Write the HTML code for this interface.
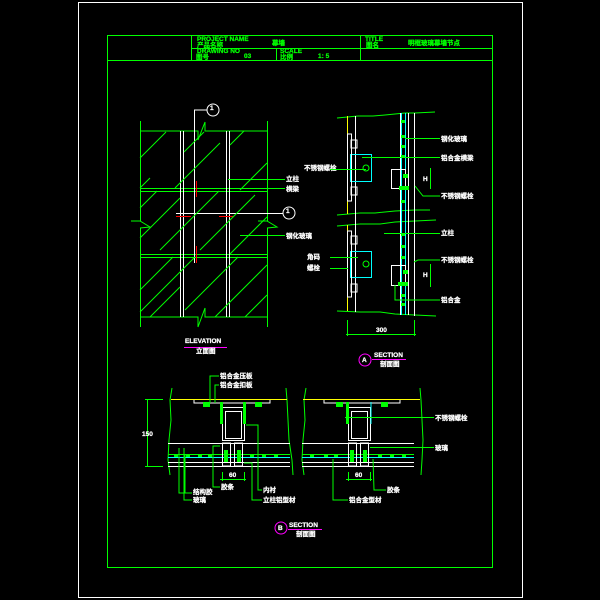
<!DOCTYPE html>
<html><head><meta charset="utf-8"><style>
html,body{margin:0;padding:0;background:#000;width:600px;height:600px;overflow:hidden}
svg{display:block}
text{font-family:"Liberation Sans","Noto Sans CJK SC",sans-serif;font-weight:bold;fill:#fff;font-size:6.5px;stroke:currentColor;stroke-width:0.25}
.g{stroke:#0f0;fill:none;stroke-width:1}
.w{stroke:#fff;fill:none;stroke-width:1}
.c{stroke:#0ff;fill:none;stroke-width:1}
.y{stroke:#ff0;fill:none;stroke-width:1}
.r{stroke:#f00;fill:none;stroke-width:1}
.m{stroke:#f0f;fill:none;stroke-width:1}
</style></head><body>
<svg width="600" height="600" viewBox="0 0 600 600" xmlns="http://www.w3.org/2000/svg" color="#fff">
<rect x="78.5" y="2.5" width="444" height="595" class="w"/>
<rect x="107.5" y="35.5" width="385" height="532" class="g"/>
<!-- title block -->
<line x1="107" y1="60.5" x2="492" y2="60.5" class="g"/>
<line x1="191.5" y1="35" x2="191.5" y2="60" class="g"/>
<line x1="360.5" y1="35" x2="360.5" y2="60" class="g"/>
<line x1="276.5" y1="48" x2="276.5" y2="60" class="g"/>
<line x1="191" y1="48.5" x2="492" y2="48.5" class="g"/>
<g color="#0f0">
<text x="197" y="41" style="fill:#0f0">PROJECT NAME</text>
<text x="197" y="47" style="fill:#0f0">产品名称</text>
<text x="272" y="45" style="fill:#0f0">幕墙</text>
<text x="197" y="53" style="fill:#0f0">DRAWING NO</text>
<text x="196" y="59" style="fill:#0f0">图号</text>
<text x="244" y="58" style="fill:#0f0">03</text>
<text x="280" y="53" style="fill:#0f0">SCALE</text>
<text x="280" y="59" style="fill:#0f0">比例</text>
<text x="318" y="58" style="fill:#0f0">1: 5</text>
<text x="365" y="41" style="fill:#0f0">TITLE</text>
<text x="366" y="47" style="fill:#0f0">图名</text>
<text x="408" y="45" style="fill:#0f0">明框玻璃幕墙节点</text>
</g>

<!-- elevation -->
<g>
<line x1="140.5" y1="121" x2="140.5" y2="221" class="g"/>
<line x1="140.5" y1="228" x2="140.5" y2="327" class="g"/>
<line x1="267.5" y1="121" x2="267.5" y2="221" class="g"/>
<line x1="267.5" y1="228" x2="267.5" y2="327" class="g"/>
<polyline points="131,221 140,221 150,227 140,228" class="g"/>
<polyline points="258,221 267,221 277,227 267,228" class="g"/>
<polyline points="140,131 198,131 198,140 205,122 205,131 267,131" class="g"/>
<polyline points="140,317 198,317 198,327 205,308 205,317 267,317" class="g"/>
<line x1="140" y1="188.5" x2="267" y2="188.5" class="g"/>
<line x1="140" y1="191.5" x2="267" y2="191.5" class="g"/>
<line x1="140" y1="254.5" x2="267" y2="254.5" class="g"/>
<line x1="140" y1="257.5" x2="267" y2="257.5" class="g"/>
<line x1="180.5" y1="131" x2="180.5" y2="317" class="w"/>
<line x1="183.5" y1="131" x2="183.5" y2="317" class="w"/>
<line x1="226.5" y1="131" x2="226.5" y2="317" class="w"/>
<line x1="229.5" y1="131" x2="229.5" y2="317" class="w"/>
<polyline points="194.5,263 194.5,110 207,110" class="w"/>
<circle cx="213" cy="110" r="6" class="w"/><text x="210" y="110">1</text>
<line x1="176" y1="213.5" x2="283" y2="213.5" class="w"/>
<circle cx="289" cy="213" r="6" class="w"/><text x="286" y="213">1</text>
<line x1="196.5" y1="181" x2="196.5" y2="197" class="r"/>
<line x1="196.5" y1="246" x2="196.5" y2="263" class="r"/>
<line x1="176" y1="216.5" x2="191" y2="216.5" class="r"/>
<line x1="219" y1="216.5" x2="234" y2="216.5" class="r"/>
<g class="g" stroke-width="0.8">
<line x1="140" y1="158" x2="166" y2="132"/><line x1="184" y1="152" x2="204" y2="132"/><line x1="230" y1="145" x2="244" y2="131"/>
<line x1="140" y1="188" x2="150" y2="178"/><line x1="175" y1="188" x2="220" y2="143"/><line x1="240" y1="190" x2="267" y2="163"/>
<line x1="140" y1="208" x2="157" y2="191"/><line x1="160" y1="250" x2="219" y2="191"/><line x1="200" y1="250" x2="255" y2="195"/>
<line x1="140" y1="238" x2="180" y2="198"/><line x1="230" y1="254" x2="267" y2="217"/>
<line x1="140" y1="290" x2="173" y2="257"/><line x1="140" y1="312" x2="195" y2="257"/><line x1="185" y1="310" x2="238" y2="257"/>
<line x1="215" y1="317" x2="267" y2="265"/><line x1="245" y1="317" x2="267" y2="295"/><line x1="150" y1="317" x2="180" y2="287"/>
</g>
<line x1="228" y1="179.5" x2="285" y2="179.5" class="g"/>
<line x1="240" y1="188.5" x2="285" y2="188.5" class="g"/>
<line x1="240" y1="235.5" x2="285" y2="235.5" class="g"/>
<text x="286" y="181">立柱</text><text x="286" y="191">横梁</text><text x="286" y="238">钢化玻璃</text>
<text x="304" y="170">不锈钢螺栓</text>
<text x="185" y="343">ELEVATION</text>
<line x1="184" y1="347.5" x2="227" y2="347.5" class="m"/>
<text x="196" y="353">立面图</text>
</g>

<!-- section A -->
<g>
<polyline points="337,118 358,116 373,116 385,115 405,113 415,113 435,112" class="g"/>
<polyline points="337,215 360,213 375,213 395,211 415,210 430,210" class="g"/>
<polyline points="337,226 360,224 380,224 395,222 415,221 436,220" class="g"/>
<polyline points="337,311 360,312 380,312 395,314 415,315 436,316" class="g"/>
<line x1="347.5" y1="116" x2="347.5" y2="214" class="y"/>
<line x1="347.5" y1="225" x2="347.5" y2="311" class="y"/>
<line x1="355.5" y1="116" x2="355.5" y2="312" class="w"/>
<line x1="401.5" y1="113" x2="401.5" y2="315" class="c"/>
<line x1="405.5" y1="113" x2="405.5" y2="315" class="c"/>
<line x1="400.5" y1="113" x2="400.5" y2="315" class="w"/>
<line x1="408.5" y1="113" x2="408.5" y2="315" class="w"/>
<line x1="414.5" y1="113" x2="414.5" y2="316" class="w"/>
<rect x="350.5" y="154.5" width="21" height="27" class="c"/>
<rect x="350.5" y="251.5" width="21" height="26" class="c"/>
<rect x="347.5" y="134" width="4" height="67" class="w"/>
<rect x="347.5" y="231" width="4" height="66" class="w"/>
<rect x="351" y="140" width="6" height="8" class="w"/><rect x="351" y="187" width="6" height="8" class="w"/>
<rect x="351" y="236" width="6" height="8" class="w"/><rect x="351" y="284" width="6" height="8" class="w"/>
<circle cx="366" cy="168" r="3" class="g"/><circle cx="366" cy="264" r="3" class="g"/>
<rect x="391.5" y="169.5" width="14" height="19" class="w"/>
<rect x="391.5" y="265.5" width="14" height="20" class="w"/>
<rect x="399" y="186" width="10" height="4" style="fill:#0f0"/>
<rect x="398" y="282" width="10" height="4" style="fill:#0f0"/>
<g fill="#0f0">
<rect x="401" y="120" width="4" height="3"/><rect x="401" y="135" width="4" height="3"/><rect x="401" y="145" width="4" height="3"/><rect x="401" y="155" width="4" height="3"/><rect x="401" y="200" width="4" height="3"/>
<rect x="401" y="233" width="4" height="3"/><rect x="401" y="245" width="4" height="3"/><rect x="401" y="256" width="4" height="3"/><rect x="401" y="294" width="4" height="3"/><rect x="401" y="303" width="4" height="3"/>
<rect x="403" y="174" width="5" height="4"/><rect x="403" y="270" width="5" height="4"/>
</g>
<line x1="405" y1="138.5" x2="440" y2="138.5" class="g"/>
<line x1="362" y1="157.5" x2="440" y2="157.5" class="g"/>
<line x1="330" y1="169.5" x2="366" y2="169.5" class="g"/>
<line x1="384" y1="233.5" x2="440" y2="233.5" class="g"/>
<line x1="330" y1="257.5" x2="358" y2="257.5" class="g"/>
<line x1="330" y1="268.5" x2="348" y2="268.5" class="g"/>
<polyline points="415,186 423,196 440,196" class="g"/>
<polyline points="414,262 418,260 440,260" class="g"/>
<polyline points="395,285 395,300 440,300" class="g"/>
<line x1="430.5" y1="168" x2="430.5" y2="189" class="g"/>
<line x1="430.5" y1="264" x2="430.5" y2="287" class="g"/>
<text x="441" y="141">钢化玻璃</text><text x="441" y="160">铝合金横梁</text>
<text x="441" y="198">不锈钢螺栓</text><text x="441" y="235">立柱</text>
<text x="441" y="262">不锈钢螺栓</text><text x="441" y="302">铝合金</text>
<text x="307" y="259">角码</text><text x="307" y="270">螺栓</text>
<text x="423" y="181">H</text><text x="423" y="277">H</text>
<line x1="347.5" y1="320" x2="347.5" y2="336" class="g"/>
<line x1="414.5" y1="320" x2="414.5" y2="336" class="g"/>
<line x1="346" y1="334.5" x2="416" y2="334.5" class="g"/>
<text x="376" y="332">300</text>
<circle cx="365" cy="360" r="6" class="m"/><text x="362" y="362">A</text>
<line x1="372" y1="359.5" x2="406" y2="359.5" class="m"/>
<text x="374" y="357">SECTION</text><text x="380" y="366">剖面图</text>
</g>

<!-- section B -->
<g>
<polyline points="172,388 170,400 171,420 169,440 168,460 170,475" class="g"/>
<polyline points="286,388 287,400 288,420 289,440 292,460 293,475" class="g"/>
<line x1="171" y1="399.5" x2="287" y2="399.5" class="y"/>
<polyline points="194,400 194,403 270,403 270,400" class="w"/>
<rect x="222.5" y="407.5" width="22" height="33" class="w"/>
<rect x="225.5" y="411.5" width="16" height="27" class="w"/>
<rect x="220" y="402" width="3" height="22" fill="#0f0"/>
<rect x="243" y="402" width="3" height="22" fill="#0f0"/>
<line x1="168" y1="443.5" x2="290" y2="443.5" class="w"/>
<line x1="168" y1="454.5" x2="290" y2="454.5" class="g"/>
<line x1="168" y1="457.5" x2="290" y2="457.5" class="c"/>
<line x1="168" y1="462.5" x2="290" y2="462.5" class="w"/>
<line x1="168" y1="466.5" x2="290" y2="466.5" class="w"/>
<rect x="222.5" y="443" width="8" height="23" class="w"/><rect x="234.5" y="443" width="8" height="23" class="w"/>
<rect x="224" y="450" width="4" height="12" fill="#0f0"/><rect x="237" y="450" width="4" height="12" fill="#0f0"/>
<g fill="#0f0"><rect x="174" y="455" width="4" height="2"/><rect x="186" y="455" width="4" height="2"/><rect x="198" y="455" width="4" height="2"/><rect x="208" y="455" width="4" height="2"/><rect x="250" y="455" width="4" height="2"/><rect x="262" y="455" width="4" height="2"/><rect x="274" y="455" width="4" height="2"/></g>
<g fill="#0f0"><rect x="203" y="402" width="7" height="5"/><rect x="255" y="402" width="7" height="5"/></g>
</g>
<g transform="translate(134,0)">
<polyline points="172,388 170,400 171,420 169,440 168,460 170,475" class="g"/>
<polyline points="286,388 287,400 288,420 289,440 288,460 287,475" class="g"/>
<line x1="169" y1="399.5" x2="286" y2="399.5" class="y"/>
<polyline points="190,400 190,403 266,403 266,400" class="w"/>
<rect x="214.5" y="407.5" width="22" height="33" class="w"/>
<rect x="217.5" y="411.5" width="16" height="27" class="w"/>
<rect x="212" y="402" width="3" height="22" fill="#0f0"/>
<line x1="237" y1="402" x2="237" y2="424" class="c"/>
<line x1="168" y1="443.5" x2="280" y2="443.5" class="w"/>
<line x1="168" y1="454.5" x2="280" y2="454.5" class="g"/>
<line x1="168" y1="457.5" x2="280" y2="457.5" class="c"/>
<line x1="168" y1="462.5" x2="280" y2="462.5" class="w"/>
<line x1="168" y1="466.5" x2="280" y2="466.5" class="w"/>
<rect x="214.5" y="443" width="8" height="23" class="w"/><rect x="226.5" y="443" width="8" height="23" class="w"/>
<rect x="216" y="450" width="4" height="12" fill="#0f0"/><rect x="229" y="450" width="4" height="12" fill="#0f0"/>
<g fill="#0f0"><rect x="176" y="455" width="4" height="2"/><rect x="190" y="455" width="4" height="2"/><rect x="200" y="455" width="4" height="2"/><rect x="244" y="455" width="4" height="2"/><rect x="256" y="455" width="4" height="2"/><rect x="268" y="455" width="4" height="2"/></g>
<g fill="#0f0"><rect x="202" y="402" width="7" height="5"/><rect x="247" y="402" width="7" height="5"/></g>
</g>
<!-- B leaders -->
<line x1="147.5" y1="399" x2="147.5" y2="467" class="g"/>
<line x1="145" y1="399.5" x2="163" y2="399.5" class="g"/>
<line x1="145" y1="466.5" x2="163" y2="466.5" class="g"/>
<text x="142" y="436">150</text>
<polyline points="210,403 210,376 219,376" class="g"/>
<polyline points="215,403 215,385 219,385" class="g"/>
<text x="220" y="378">铝合金压板</text><text x="220" y="387">铝合金扣板</text>
<polyline points="179,448 179,493 192,493" class="g"/>
<polyline points="185,455 185,493" class="g"/>
<polyline points="184,448 184,500 192,500" class="g"/>
<text x="193" y="494">结构胶</text><text x="193" y="502">玻璃</text>
<polyline points="246,425 258,425 258,490 262,490" class="g"/>
<polyline points="244,463 252,463 252,500 262,500" class="g"/>
<text x="263" y="492">内衬</text><text x="263" y="502">立柱铝型材</text>
<polyline points="220,446 213,446 213,487 220,487" class="g"/>
<text x="221" y="489">胶条</text>
<line x1="222.5" y1="472" x2="222.5" y2="481" class="g"/><line x1="244.5" y1="472" x2="244.5" y2="481" class="g"/>
<line x1="220" y1="479.5" x2="246" y2="479.5" class="g"/><text x="229" y="477">60</text>
<line x1="348.5" y1="472" x2="348.5" y2="481" class="g"/><line x1="370.5" y1="472" x2="370.5" y2="481" class="g"/>
<line x1="346" y1="479.5" x2="372" y2="479.5" class="g"/><text x="355" y="477">60</text>
<line x1="345" y1="417.5" x2="434" y2="417.5" class="g"/>
<text x="435" y="420">不锈钢螺栓</text>
<line x1="370" y1="447.5" x2="434" y2="447.5" class="g"/>
<text x="435" y="450">玻璃</text>
<polyline points="373,459 374,490 386,490" class="g"/><text x="387" y="492">胶条</text>
<polyline points="333,459 333,500 348,500" class="g"/><text x="349" y="502">铝合金型材</text>
<circle cx="281" cy="528" r="6" class="m"/><text x="278" y="530">B</text>
<line x1="288" y1="529.5" x2="322" y2="529.5" class="m"/>
<text x="289" y="527">SECTION</text><text x="296" y="536">剖面图</text>
</svg>
</body></html>
